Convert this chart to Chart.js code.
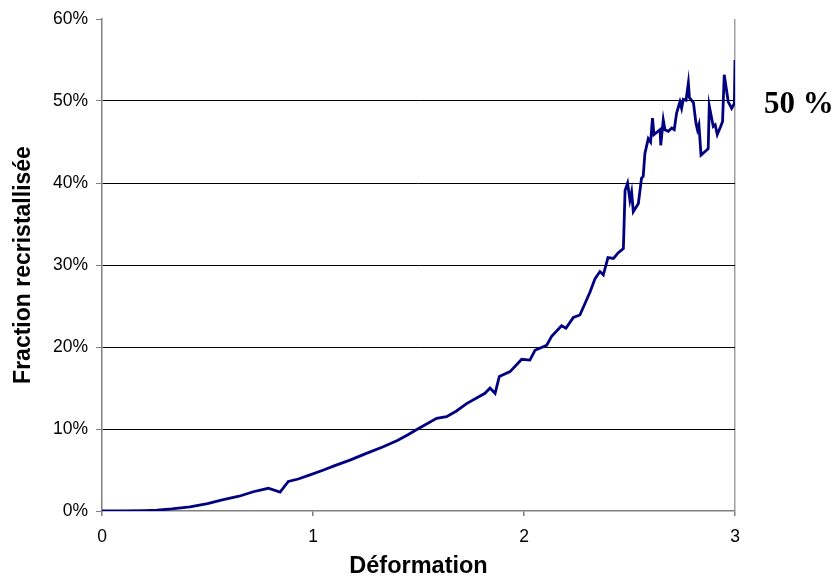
<!DOCTYPE html>
<html>
<head>
<meta charset="utf-8">
<title>Fraction recristallisée</title>
<script src="https://cdn.jsdelivr.net/npm/chart.js@4.4.1/dist/chart.umd.min.js"></script>
<style>
  html, body { margin: 0; padding: 0; background: #fff; }
  #wrap { width: 836px; height: 579px; }
</style>
</head>
<body>
<div id="wrap"><canvas id="chart" width="836" height="579"></canvas></div>
<script>
// Recrystallised fraction (%) against strain
const strain = [
  0, 0.1, 0.2, 0.26, 0.33, 0.417, 0.5, 0.575, 0.65, 0.717, 0.788, 0.844, 0.883, 0.93, 0.986,
  1.05, 1.1, 1.175, 1.25, 1.33, 1.4, 1.45, 1.49, 1.586, 1.633, 1.68, 1.728, 1.815, 1.839, 1.863,
  1.883, 1.934, 1.989, 2.028, 2.052, 2.107, 2.131, 2.178, 2.199, 2.234, 2.265, 2.289, 2.313, 2.336,
  2.36, 2.376, 2.398, 2.424, 2.447, 2.471, 2.479, 2.491, 2.502, 2.51, 2.518, 2.542, 2.557, 2.565,
  2.573, 2.589, 2.6, 2.609, 2.616, 2.645, 2.648, 2.66, 2.668, 2.684, 2.7, 2.712, 2.723, 2.739,
  2.747, 2.755, 2.768, 2.779, 2.784, 2.803, 2.815, 2.822, 2.829, 2.839, 2.865, 2.873, 2.878,
  2.897, 2.906, 2.916, 2.932, 2.941, 2.949, 2.968, 2.984, 2.997, 3.0
];
const fraction = [
  0, 0, 0.05, 0.1, 0.25, 0.5, 0.9, 1.4, 1.8, 2.35, 2.77, 2.3, 3.6, 3.9, 4.4,
  5.0, 5.5, 6.2, 7.0, 7.8, 8.6, 9.3, 9.9, 11.3, 11.5, 12.2, 13.1, 14.35, 15.0, 14.35,
  16.4, 17.0, 18.5, 18.4, 19.6, 20.2, 21.3, 22.6, 22.3, 23.6, 23.9, 25.3, 26.7, 28.3,
  29.2, 28.8, 30.9, 30.8, 31.5, 32.0, 39.1, 40.0, 37.9, 38.9, 36.5, 37.5, 40.6, 40.8,
  43.6, 45.4, 45.0, 47.9, 45.9, 46.5, 44.6, 47.7, 46.5, 46.3, 46.7, 46.5, 48.5, 49.9,
  49.1, 50.2, 50.1, 52.2, 50.4, 49.8, 47.3, 46.5, 47.1, 43.4, 44.0, 44.2, 49.4,
  46.9, 47.1, 45.9, 46.9, 47.5, 53.2, 49.9, 49.1, 49.7, 55.0
];
const xTicks = [0, 1, 2, 3];
const yTicks = [0, 10, 20, 30, 40, 50, 60];
const markLevel = 50;
const markText = '50 %';

const points = strain.map((x, i) => ({ x: x, y: fraction[i] }));
const sans = '"Liberation Sans", Arial, sans-serif';

// Bold serif note to the right of the plot, level with the 50 % line
const sideNote = {
  id: 'sideNote',
  afterDraw(chart) {
    const ctx = chart.ctx;
    const y = chart.scales.y.getPixelForValue(markLevel);
    ctx.save();
    ctx.font = 'bold 31px "Liberation Serif", "Times New Roman", serif';
    ctx.fillStyle = '#000';
    ctx.textBaseline = 'middle';
    ctx.textAlign = 'left';
    ctx.fillText(markText, chart.chartArea.right + 29, y + 4);
    ctx.restore();
  }
};

new Chart(document.getElementById('chart'), {
  type: 'line',
  data: {
    datasets: [{
      data: points,
      borderColor: '#000080',
      borderWidth: 2.8,
      pointRadius: 0,
      tension: 0,
      fill: false
    }]
  },
  options: {
    responsive: false,
    animation: false,
    layout: { padding: { top: 19, right: 101, left: 0, bottom: 0 } },
    plugins: {
      legend: { display: false },
      tooltip: { enabled: false }
    },
    scales: {
      x: {
        type: 'linear',
        min: 0,
        max: 3,
        afterBuildTicks: (scale) => { scale.ticks = xTicks.map(v => ({ value: v })); },
        afterFit: (scale) => { scale.height = 68; },
        ticks: {
          color: '#000',
          font: { family: sans, size: 17.5 },
          padding: 11,
          maxRotation: 0
        },
        grid: {
          drawOnChartArea: true,
          color: (c) => (c.tick && c.tick.value === 3 ? '#a0a0a0' : 'rgba(0,0,0,0)'),
          tickColor: '#808080',
          tickLength: 5,
          lineWidth: 1.5
        },
        border: { color: '#808080', width: 1.5 },
        title: {
          display: true,
          text: 'Déformation',
          color: '#000',
          font: { family: sans, size: 23.5, weight: 'bold', lineHeight: 1.1 },
          padding: { top: 0, bottom: 0 }
        }
      },
      y: {
        min: 0,
        max: 60,
        afterBuildTicks: (scale) => { scale.ticks = yTicks.map(v => ({ value: v })); },
        afterFit: (scale) => { scale.width = 102; },
        ticks: {
          color: '#000',
          font: { family: sans, size: 17.5 },
          padding: 8,
          callback: (v) => v + '%'
        },
        grid: {
          color: (c) => (c.tick && (c.tick.value === 0 || c.tick.value === 60) ? 'rgba(0,0,0,0)' : '#000'),
          tickColor: '#808080',
          tickLength: 6,
          lineWidth: 1
        },
        border: { color: '#808080', width: 1.5 },
        title: {
          display: true,
          text: 'Fraction recristallisée',
          color: '#000',
          font: { family: sans, size: 23, weight: 'bold' },
          padding: { top: 10, bottom: 0 }
        }
      }
    }
  },
  plugins: [sideNote]
});
</script>
</body>
</html>
